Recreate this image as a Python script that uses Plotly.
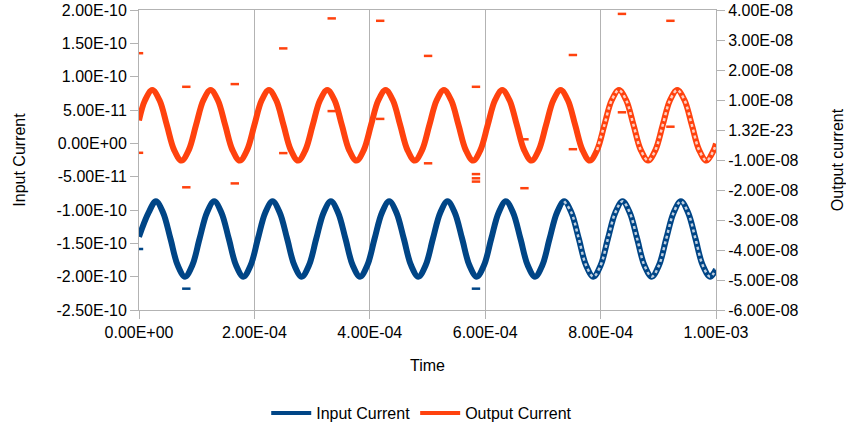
import plotly.graph_objects as go

# Time stamps in microseconds
t_in_us = [0, 16.6, 29.2, 41.8, 54.5, 67.1, 79.8, 92.4, 105.0, 117.7, 130.3, 142.9, 155.6,
           168.2, 180.9, 193.5, 206.1, 218.8, 231.4, 244.0, 256.7, 269.3, 282.0, 294.6,
           307.2, 319.9, 332.5, 345.1, 357.8, 370.4, 383.1, 395.7, 408.3, 421.0, 433.6,
           446.2, 458.9, 471.5, 484.2, 496.8, 509.4, 522.1, 534.7, 547.3, 560.0, 572.6,
           585.3, 597.9, 610.5, 623.2, 635.8, 648.4, 661.1, 673.7, 686.4, 699.0, 711.6,
           724.3, 736.9, 749.5, 762.2, 774.8, 787.5, 800.1, 812.7, 825.4, 838.0, 850.6,
           863.3, 875.9, 888.6, 901.2, 913.8, 926.5, 939.1, 951.7, 964.4, 977.0, 989.7, 1000]

# Input current, units of 1E-10 A
input_e10 = [-1.40,
             -1.04, -0.87, -1.04, -1.43, -1.83, -2.00, -1.83, -1.43,
             -1.04, -0.87, -1.04, -1.43, -1.83, -2.00, -1.83, -1.43,
             -1.04, -0.87, -1.04, -1.43, -1.83, -2.00, -1.83, -1.43,
             -1.04, -0.87, -1.04, -1.43, -1.83, -2.00, -1.83, -1.43,
             -1.04, -0.87, -1.04, -1.43, -1.83, -2.00, -1.83, -1.43,
             -1.04, -0.87, -1.04, -1.43, -1.83, -2.00, -1.83, -1.43,
             -1.04, -0.87, -1.04, -1.43, -1.83, -2.00, -1.83, -1.43,
             -1.04, -0.87, -1.04, -1.43, -1.83, -2.00, -1.83, -1.43,
             -1.04, -0.87, -1.04, -1.43, -1.83, -2.00, -1.83, -1.43,
             -1.04, -0.87, -1.04, -1.43, -1.83, -2.00,
             -1.89]

t_out_us = [0, 10.4, 23.0, 35.6, 48.3, 60.9, 73.6, 86.2, 98.8, 111.5, 124.1, 136.7, 149.4,
            162.0, 174.7, 187.3, 199.9, 212.6, 225.2, 237.8, 250.5, 263.1, 275.8, 288.4,
            301.0, 313.7, 326.3, 338.9, 351.6, 364.2, 376.9, 389.5, 402.1, 414.8, 427.4,
            440.0, 452.7, 465.3, 478.0, 490.6, 503.2, 515.9, 528.5, 541.1, 553.8, 566.4,
            579.1, 591.7, 604.3, 617.0, 629.6, 642.2, 654.9, 667.5, 680.2, 692.8, 705.4,
            718.1, 730.7, 743.3, 756.0, 768.6, 781.3, 793.9, 806.5, 819.2, 831.8, 844.4,
            857.1, 869.7, 882.4, 895.0, 907.6, 920.3, 932.9, 945.5, 958.2, 970.8, 983.5,
            996.1, 1000]

# Output current, units of 1E-8 A
output_e8 = [0.32,
             0.99, 1.33, 0.99, 0.16, -0.67, -1.02, -0.67, 0.16,
             0.99, 1.33, 0.99, 0.16, -0.67, -1.02, -0.67, 0.16,
             0.99, 1.33, 0.99, 0.16, -0.67, -1.02, -0.67, 0.16,
             0.99, 1.33, 0.99, 0.16, -0.67, -1.02, -0.67, 0.16,
             0.99, 1.33, 0.99, 0.16, -0.67, -1.02, -0.67, 0.16,
             0.99, 1.33, 0.99, 0.16, -0.67, -1.02, -0.67, 0.16,
             0.99, 1.33, 0.99, 0.16, -0.67, -1.02, -0.67, 0.16,
             0.99, 1.33, 0.99, 0.16, -0.67, -1.02, -0.67, 0.16,
             0.99, 1.33, 0.99, 0.16, -0.67, -1.02, -0.67, 0.16,
             0.99, 1.33, 0.99, 0.16, -0.67, -1.02, -0.67,
             -0.45]

# Stray samples (glitches) away from the main waveforms
spike_out_t_us = [0, 0, 82, 82, 166, 166, 250, 250, 334, 334, 418, 418, 501, 501,
                  584, 584, 584, 584, 668, 668, 752, 752, 837, 837, 921, 921]
spike_out_e8 = [2.56, -0.76, 1.44, -1.91, 1.53, -1.78, 2.72, -0.77, 3.72, 0.63, 3.64, 0.37,
                2.47, -1.11, 1.44, -1.47, -1.61, -1.72, -0.31, -1.94, 2.50, -0.64, 3.87, 0.59,
                3.64, 0.11]
spike_in_t_us = [0, 82, 584]
spike_in_e10 = [-1.585, -2.18, -2.18]

x_ticks = [0, 2e-4, 4e-4, 6e-4, 8e-4, 1e-3]
x_ticktext = ["0.00E+00", "2.00E-04", "4.00E-04", "6.00E-04", "8.00E-04", "1.00E-03"]
y1_ticks = [2e-10, 1.5e-10, 1e-10, 5e-11, 0, -5e-11, -1e-10, -1.5e-10, -2e-10, -2.5e-10]
y1_ticktext = ["2.00E-10", "1.50E-10", "1.00E-10", "5.00E-11", "0.00E+00", "-5.00E-11",
               "-1.00E-10", "-1.50E-10", "-2.00E-10", "-2.50E-10"]
y2_ticks = [4e-8, 3e-8, 2e-8, 1e-8, 0, -1e-8, -2e-8, -3e-8, -4e-8, -5e-8, -6e-8]
y2_ticktext = ["4.00E-08", "3.00E-08", "2.00E-08", "1.00E-08", "1.32E-23", "-1.00E-08",
               "-2.00E-08", "-3.00E-08", "-4.00E-08", "-5.00E-08", "-6.00E-08"]

BLUE = "#004586"
ORANGE = "#FF420E"
AXIS = "#b3b3b3"
FONT = "Liberation Sans"
FS = 16

us = lambda seq: [v * 1e-6 for v in seq]
x_in = us(t_in_us)
y_in = [v * 1e-10 for v in input_e10]
x_out = us(t_out_us)
y_out = [v * 1e-8 for v in output_e8]

fig = go.Figure()
fig.add_trace(go.Scatter(
    x=x_in, y=y_in, mode="lines", showlegend=False,
    line=dict(color=BLUE, width=6, shape="spline"), yaxis="y"))
fig.add_trace(go.Scatter(
    x=x_out, y=y_out, mode="lines", showlegend=False,
    line=dict(color=ORANGE, width=6, shape="spline"), yaxis="y2"))

# densely sampled stretches render with a speckled, lighter look
speck = dict(color="rgba(255,255,255,0.75)", width=2.5, dash="3px,3px", shape="spline")
k_in = [i for i, t in enumerate(t_in_us) if t >= 735]
k_out = [i for i, t in enumerate(t_out_us) if t >= 785]
fig.add_trace(go.Scatter(
    x=[x_in[i] for i in k_in], y=[y_in[i] for i in k_in], mode="lines",
    line=speck, showlegend=False, hoverinfo="skip", yaxis="y"))
fig.add_trace(go.Scatter(
    x=[x_out[i] for i in k_out], y=[y_out[i] for i in k_out], mode="lines",
    line=speck, showlegend=False, hoverinfo="skip", yaxis="y2"))

fig.add_trace(go.Scatter(
    x=us(spike_in_t_us), y=[v * 1e-10 for v in spike_in_e10], mode="markers",
    marker=dict(symbol="line-ew", size=6, line=dict(color=BLUE, width=2.5)),
    showlegend=False, yaxis="y"))
fig.add_trace(go.Scatter(
    x=us(spike_out_t_us), y=[v * 1e-8 for v in spike_out_e8], mode="markers",
    marker=dict(symbol="line-ew", size=6, line=dict(color=ORANGE, width=2.5)),
    showlegend=False, yaxis="y2"))

# legend entries
fig.add_trace(go.Scatter(x=[None], y=[None], mode="lines", name="Input Current",
                         line=dict(color=BLUE, width=4), yaxis="y"))
fig.add_trace(go.Scatter(x=[None], y=[None], mode="lines", name="Output Current",
                         line=dict(color=ORANGE, width=4), yaxis="y2"))

axis_common = dict(showline=True, linecolor=AXIS, linewidth=1, ticks="outside",
                   ticklen=8, tickcolor=AXIS, zeroline=False, automargin=False,
                   tickfont=dict(family=FONT, size=FS, color="#000000"))
title_font = dict(family=FONT, size=FS, color="#000000")

fig.update_layout(
    width=846, height=429,
    margin=dict(l=139, r=130, t=10, b=119, autoexpand=False),
    paper_bgcolor="white", plot_bgcolor="white",
    font=dict(family=FONT, size=FS, color="#000000"),
    xaxis=dict(range=[0, 1e-3], tickvals=x_ticks, ticktext=x_ticktext,
               showgrid=True, gridcolor=AXIS, gridwidth=1, mirror=True,
               title=dict(text="Time", standoff=19, font=title_font),
               **axis_common),
    yaxis=dict(range=[-2.5e-10, 2e-10], tickvals=y1_ticks, ticktext=y1_ticktext,
               showgrid=False,
               title=dict(text="Input Current", standoff=26, font=title_font),
               **axis_common),
    yaxis2=dict(range=[-6e-8, 4e-8], tickvals=y2_ticks, ticktext=y2_ticktext,
                showgrid=False, overlaying="y", side="right",
                title=dict(text="Output current", standoff=34, font=title_font),
                **axis_common),
    legend=dict(orientation="h", x=0.49, xanchor="center", xref="paper",
                y=0.037, yanchor="middle", yref="container", itemwidth=40,
                font=dict(family=FONT, size=FS, color="#000000"),
                bgcolor="rgba(0,0,0,0)"),
)

fig.write_html("out.html")
